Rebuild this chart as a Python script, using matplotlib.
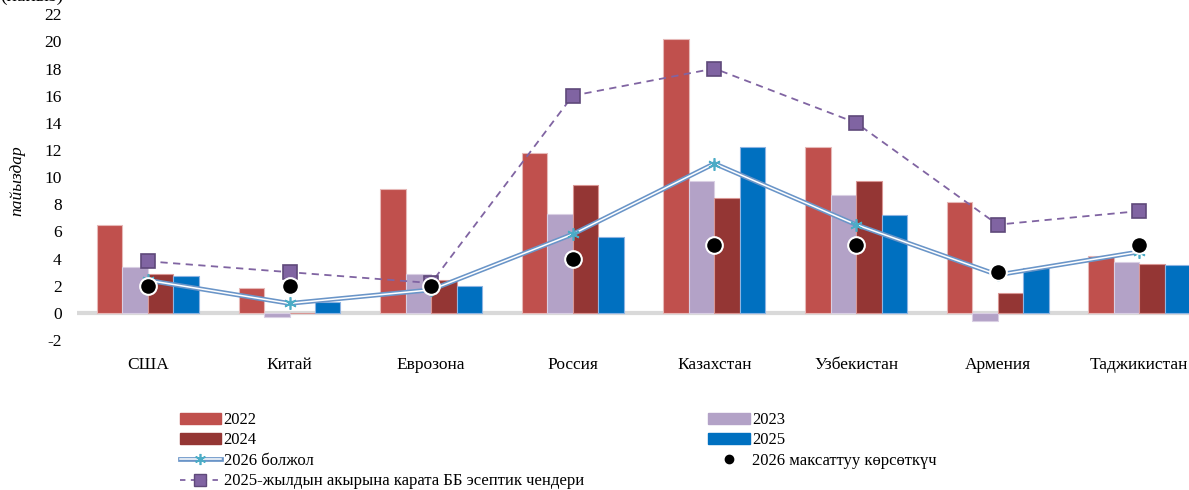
import numpy as np
import matplotlib.pyplot as plt
from matplotlib.lines import Line2D
from matplotlib.patches import Patch

plt.rcParams['font.family'] = ['Liberation Serif', 'DejaVu Serif']
plt.rcParams['axes.unicode_minus'] = False

countries = ['США', 'Китай', 'Еврозона', 'Россия', 'Казахстан', 'Узбекистан', 'Армения', 'Таджикистан']
y2022 = [6.5, 1.8, 9.1, 11.8, 20.2, 12.2, 8.2, 4.2]
y2023 = [3.4, -0.3, 2.9, 7.3, 9.7, 8.7, -0.6, 3.75]
y2024 = [2.9, 0.0, 2.4, 9.4, 8.5, 9.7, 1.5, 3.6]
y2025 = [2.7, 0.8, 2.0, 5.6, 12.2, 7.2, 3.3, 3.5]
forecast_2026 = [2.4, 0.7, 1.7, 5.8, 11.0, 6.5, 2.8, 4.5]
target_2026 = [2.0, 2.0, 2.0, 4.0, 5.0, 5.0, 3.0, 5.0]
policy_rate = [3.8, 3.0, 2.2, 16.0, 18.0, 14.0, 6.5, 7.5]

bar_labels = ['2022', '2023', '2024', '2025']
bar_colors = ['#C0504D', '#B3A2C7', '#943634', '#0070C0']
edge_colors = ['#E6B9B8', '#D9CFE3', '#D99694', '#8DB4E2']

fig = plt.figure(figsize=(11.89, 4.90), dpi=100)
ax = fig.add_axes([0.0648, 0.306, 0.953, 0.665])

x = np.arange(len(countries))
w = 0.18
for i, vals in enumerate([y2022, y2023, y2024, y2025]):
    ax.bar(x + (i - 1.5) * w, vals, w, color=bar_colors[i],
           edgecolor=edge_colors[i], linewidth=0.8, zorder=2)

ax.axhline(0, color='#D9D9D9', linewidth=3, zorder=1)

# policy rate at the end of 2025
ax.plot(x, policy_rate, linestyle=(0, (4, 3)), color='#8064A2', linewidth=1.3,
        marker='s', markersize=10, markerfacecolor='#8064A2',
        markeredgecolor='#5F497A', markeredgewidth=1.2, zorder=3)

# 2026 forecast as a double line
ax.plot(x, forecast_2026, color='#6A95C8', linewidth=3.4, zorder=4, solid_capstyle='round')
ax.plot(x, forecast_2026, color='white', linewidth=1.1, zorder=4)
ax.plot(x, forecast_2026, linestyle='none', marker=(6, 2, 0), markersize=9,
        markeredgecolor='#4BACC6', markeredgewidth=1.2, zorder=5)

# 2026 target
ax.plot(x, target_2026, linestyle='none', marker='o', markersize=12,
        markerfacecolor='black', markeredgecolor='white', markeredgewidth=1.5, zorder=6)

ax.set_xlim(-0.5, len(countries) - 0.5)
ax.set_ylim(-2, 22)
ax.set_yticks(np.arange(-2, 23, 2))
ax.set_xticks(x)
ax.set_xticklabels(countries, fontsize=12.5)
ax.tick_params(axis='both', length=0, labelsize=12.5)
ax.tick_params(axis='x', pad=12)
ax.tick_params(axis='y', pad=11)
for s in ax.spines.values():
    s.set_visible(False)

ax.set_ylabel('пайыздар', fontsize=12.5, style='italic')
ax.yaxis.set_label_coords(-0.046, 0.49)
fig.text(0.0, 1.008, '(пайыз)', fontsize=14, ha='left', va='center')

forecast_handle = (Line2D([], [], color='#6A95C8', linewidth=3.4),
                   Line2D([], [], color='white', linewidth=1.1),
                   Line2D([], [], linestyle='none', marker=(6, 2, 0), markersize=8,
                          markeredgecolor='#4BACC6', markeredgewidth=1.2))
target_handle = Line2D([], [], linestyle='none', marker='o', markersize=6,
                       markerfacecolor='black', markeredgecolor='black')
rate_handle = Line2D([], [], linestyle=(0, (3, 3)), color='#8064A2', linewidth=1.3,
                     marker='s', markersize=9, markerfacecolor='#8064A2',
                     markeredgecolor='#5F497A')

handles = [Patch(color=bar_colors[0]), Patch(color=bar_colors[2]), forecast_handle, rate_handle,
           Patch(color=bar_colors[1]), Patch(color=bar_colors[3]), target_handle]
labels = ['2022', '2024', '2026 болжол', '2025-жылдын акырына карата ББ эсептик чендери',
          '2023', '2025', '2026 максаттуу көрсөткүч']
fig.legend(handles, labels, ncol=2, loc='upper left', bbox_to_anchor=(0.144, 0.176),
           frameon=False, fontsize=12, handlelength=2.5, handleheight=0.6,
           handletextpad=0.15, labelspacing=0.26, columnspacing=7.45, borderpad=0)

fig.savefig('out.png', dpi=100)
